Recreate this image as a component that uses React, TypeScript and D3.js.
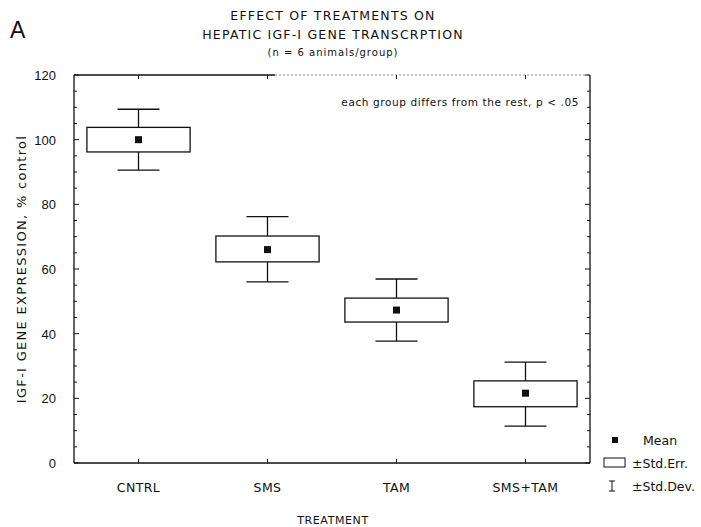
import React from "react";
import * as d3 from "d3";

const categories = ["CNTRL", "SMS", "TAM", "SMS+TAM"];
const means = [100, 66, 47.3, 21.6];
const seLow = [96.2, 62.2, 43.6, 17.4];
const seHigh = [103.8, 70.2, 51, 25.4];
const sdLow = [90.6, 56, 37.7, 11.4];
const sdHigh = [109.4, 76.2, 56.9, 31.2];
const yTicks = [0, 20, 40, 60, 80, 100, 120];
const yMinorTicks = d3.range(0, 121, 5);

const W = 701;
const H = 527;
const left = 74;
const right = 590;
const top = 75;
const bottom = 463;
const FONT = "'DejaVu Sans', 'Liberation Sans', sans-serif";

export default function App() {
  const x = d3.scaleBand().domain(categories).range([left, right]).paddingInner(0).paddingOuter(0);
  const y = d3.scaleLinear().domain([0, 120]).range([bottom, top]);
  const bw = x.bandwidth();
  const boxW = bw * 0.8;
  const capW = 42;
  const stroke = "#111";

  return (
    <svg width={W} height={H} style={{ position: "absolute", left: 0, top: 0, background: "#fff" }} fontFamily={FONT}>
      <rect x={0} y={0} width={W} height={H} fill="#fff" />
      {/* Panel letter */}
      <text x={10} y={38} fontSize={23} fill={stroke} fontFamily="'Liberation Sans', sans-serif">A</text>
      {/* Title */}
      <g textAnchor="middle" fill={stroke}>
        <text x={333} y={20} fontSize={12.5} letterSpacing={1.2}>EFFECT OF TREATMENTS ON</text>
        <text x={333} y={39} fontSize={12.5} letterSpacing={1.2}>HEPATIC IGF-I GENE TRANSCRPTION</text>
        <text x={333} y={56} fontSize={10} letterSpacing={1}>(n = 6 animals/group)</text>
      </g>

      {/* Frame */}
      <line x1={left} x2={275} y1={top} y2={top} stroke={stroke} strokeWidth={1.3} />
      <line x1={275} x2={right} y1={top} y2={top} stroke="#888" strokeWidth={1} strokeDasharray="2,2" />
      <line x1={left} x2={right} y1={bottom} y2={bottom} stroke={stroke} strokeWidth={1.3} />
      <line x1={left} x2={left} y1={top} y2={bottom} stroke={stroke} strokeWidth={1.3} />
      <line x1={right} x2={right} y1={top} y2={bottom} stroke={stroke} strokeWidth={1.3} />

      {/* Y ticks */}
      {yMinorTicks.map((t) => {
        const major = t % 20 === 0;
        const len = major ? 5 : 3;
        return (
          <g key={"yt" + t}>
            <line x1={left} x2={left + len} y1={y(t)} y2={y(t)} stroke={stroke} strokeWidth={1} />
            <line x1={right} x2={right - len} y1={y(t)} y2={y(t)} stroke={stroke} strokeWidth={1} />
          </g>
        );
      })}
      {yTicks.map((t) => (
        <text key={"yl" + t} x={56} y={y(t) + 5} textAnchor="end" fontSize={13} fill={stroke} fontFamily="'Liberation Sans', sans-serif">
          {t}
        </text>
      ))}

      {/* X ticks and labels */}
      {categories.map((c) => {
        const cx = (x(c) as number) + bw / 2;
        return (
          <g key={"xt" + c}>
            <line x1={cx} x2={cx} y1={bottom} y2={bottom - 4} stroke={stroke} strokeWidth={1} />
            <line x1={cx} x2={cx} y1={top} y2={top + 4} stroke={stroke} strokeWidth={1} />
            <text x={cx} y={492} textAnchor="middle" fontSize={12.5} letterSpacing={0.4} fill={stroke}>{c}</text>
          </g>
        );
      })}

      {/* Axis titles */}
      <text x={333} y={524} textAnchor="middle" fontSize={11} letterSpacing={0.6} fill={stroke}>TREATMENT</text>
      <text transform={`translate(26,${(top + bottom) / 2}) rotate(-90)`} textAnchor="middle" fontSize={13} letterSpacing={1.3} fill={stroke}>
        IGF-I GENE EXPRESSION, % control
      </text>

      {/* Annotation */}
      <text x={579} y={106} textAnchor="end" fontSize={10.5} letterSpacing={0.6} fill={stroke}>each group differs from the rest, p &lt; .05</text>

      {/* Boxes */}
      {categories.map((c, i) => {
        const cx = (x(c) as number) + bw / 2;
        return (
          <g key={"b" + c} stroke={stroke} strokeWidth={1.3} fill="none">
            <line x1={cx} x2={cx} y1={y(sdHigh[i])} y2={y(seHigh[i])} />
            <line x1={cx} x2={cx} y1={y(seLow[i])} y2={y(sdLow[i])} />
            <line x1={cx - capW / 2} x2={cx + capW / 2} y1={y(sdHigh[i])} y2={y(sdHigh[i])} />
            <line x1={cx - capW / 2} x2={cx + capW / 2} y1={y(sdLow[i])} y2={y(sdLow[i])} />
            <rect x={cx - boxW / 2} y={y(seHigh[i])} width={boxW} height={y(seLow[i]) - y(seHigh[i])} />
            <rect x={cx - 3.5} y={y(means[i]) - 3.5} width={7} height={7} fill={stroke} stroke="none" />
          </g>
        );
      })}

      {/* Legend */}
      <rect x={612} y={437} width={6} height={6} fill={stroke} />
      <text x={643} y={445} fontSize={12.5} fill={stroke}>Mean</text>
      <rect x={604} y={458} width={21} height={9} fill="none" stroke={stroke} strokeWidth={1} />
      <text x={632} y={468} fontSize={12.5} fill={stroke}>±Std.Err.</text>
      <g stroke={stroke} strokeWidth={1}>
        <line x1={612} x2={612} y1={481} y2={491} />
        <line x1={609} x2={615} y1={481} y2={481} />
        <line x1={609} x2={615} y1={491} y2={491} />
      </g>
      <text x={632} y={491} fontSize={12.5} fill={stroke}>±Std.Dev.</text>
    </svg>
  );
}
